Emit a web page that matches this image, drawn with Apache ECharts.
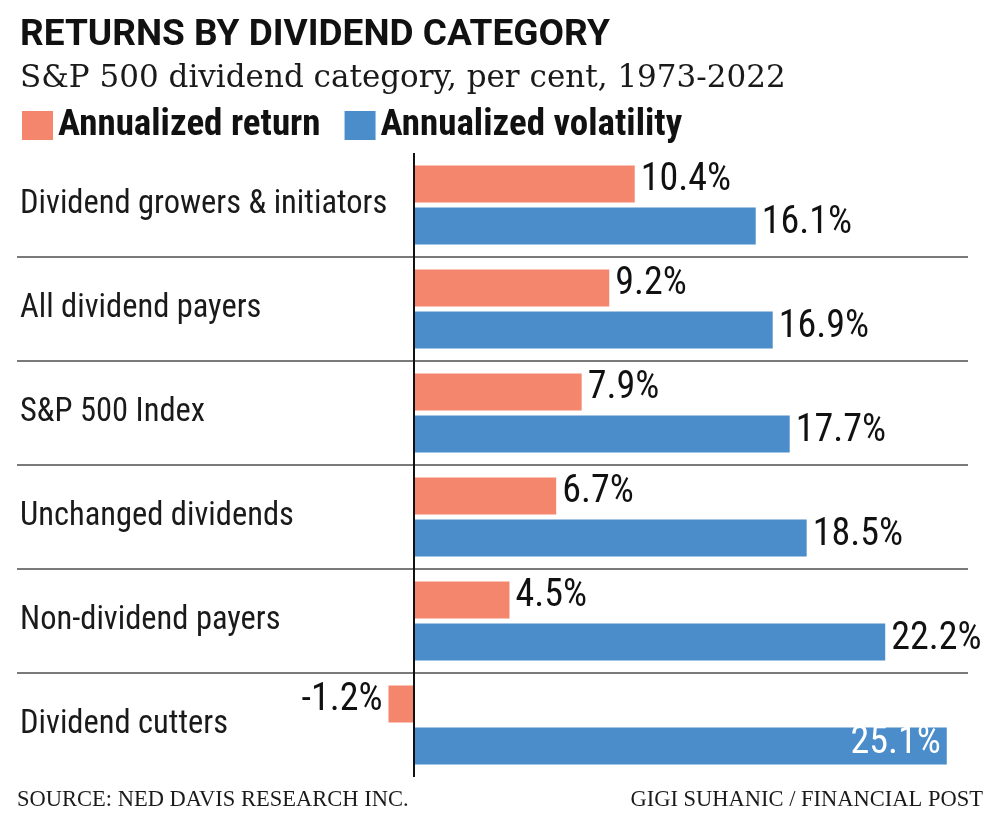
<!DOCTYPE html>
<html><head><meta charset="utf-8">
<script src="https://cdn.jsdelivr.net/npm/echarts@6/dist/echarts.min.js"></script>
</head><body style="margin:0;background:#fff">
<div id="c" style="width:1000px;height:826px"></div>
<script>
const categories = ['Dividend growers & initiators', 'All dividend payers', 'S&P 500 Index', 'Unchanged dividends', 'Non-dividend payers', 'Dividend cutters'];
const annualizedReturn = [10.4, 9.2, 7.9, 6.7, 4.5, -1.2];
const annualizedVolatility = [16.1, 16.9, 17.7, 18.5, 22.2, 25.1];
const seriesNames = ['Annualized return', 'Annualized volatility'];

const ORANGE = '#F4866D';
const BLUE = '#4A8DCA';
const COND = '"Roboto Condensed", Roboto, sans-serif';
const SERIF1 = '"DejaVu Serif", serif';
const SERIF2 = '"Liberation Serif", serif';

const baseLabel = {
  show: true, position: 'right', distance: 6, formatter: '{c}%',
  fontFamily: COND, fontWeight: 'normal', fontSize: 38, color: '#111', offset: [0, -3]
};

function mkData(arr) {
  return arr.map(v => {
    if (v < 0) return { value: v, label: { position: 'left' } };
    if (v > 24) return { value: v, label: { position: 'insideRight', color: '#fff' } };
    return { value: v };
  });
}

const chart = echarts.init(document.getElementById('c'));
chart.setOption({
  animation: false,
  backgroundColor: '#fff',
  title: [
    { text: 'RETURNS BY DIVIDEND CATEGORY', left: 20, top: 17, padding: 0,
      textStyle: { fontFamily: 'Roboto, sans-serif', fontWeight: 'bold', fontSize: 37, color: '#111' } },
    { text: 'S&P 500 dividend category, per cent, 1973-2022', left: 20, top: 63, padding: 0,
      textStyle: { fontFamily: SERIF1, fontWeight: 'normal', fontSize: 31, color: '#1a1a1a' } },
    { text: 'SOURCE: NED DAVIS RESEARCH INC.', left: 17, top: 789, padding: 0,
      textStyle: { fontFamily: SERIF2, fontWeight: 'normal', fontSize: 22.5, color: '#1a1a1a' } },
    { text: 'GIGI SUHANIC / FINANCIAL POST', right: 17, top: 789, padding: 0,
      textStyle: { fontFamily: SERIF2, fontWeight: 'normal', fontSize: 22.5, color: '#1a1a1a' } }
  ],
  legend: {
    data: seriesNames, left: 22, top: 107, padding: 0,
    itemWidth: 31, itemHeight: 29, itemGap: 24, icon: 'rect',
    textStyle: { fontFamily: COND, fontWeight: 'bold', fontSize: 37, color: '#111' }
  },
  grid: { left: 17, right: 32, top: 153, bottom: 49, containLabel: false, outerBoundsMode: 'none' },
  xAxis: { type: 'value', min: -18.7, max: 26.1, show: false },
  yAxis: [
    {
      type: 'category', data: categories, inverse: true,
      axisLine: { show: false, onZero: false },
      axisTick: { show: false },
      splitLine: { show: false },
      axisLabel: { margin: -3, align: 'left', fontFamily: COND, fontSize: 32.5, color: '#1a1a1a' }
    },
    {
      type: 'value', min: 0, max: 6, interval: 1, inverse: true, position: 'right',
      axisLine: { show: false }, axisTick: { show: false }, axisLabel: { show: false },
      splitLine: { show: true, showMinLine: false, showMaxLine: false, lineStyle: { color: '#7a7a7a', width: 2 } }
    }
  ],
  series: [
    { name: seriesNames[0], type: 'bar', yAxisIndex: 0, data: mkData(annualizedReturn),
      barWidth: 37, itemStyle: { color: ORANGE }, label: baseLabel,
      markLine: { silent: true, symbol: 'none', label: { show: false },
        lineStyle: { color: '#111', width: 2, type: 'solid' }, data: [{ xAxis: 0 }] } },
    { name: seriesNames[1], type: 'bar', yAxisIndex: 0, data: mkData(annualizedVolatility),
      barWidth: 37, barGap: '14%', itemStyle: { color: BLUE }, label: baseLabel }
  ]
});
</script></body></html>
